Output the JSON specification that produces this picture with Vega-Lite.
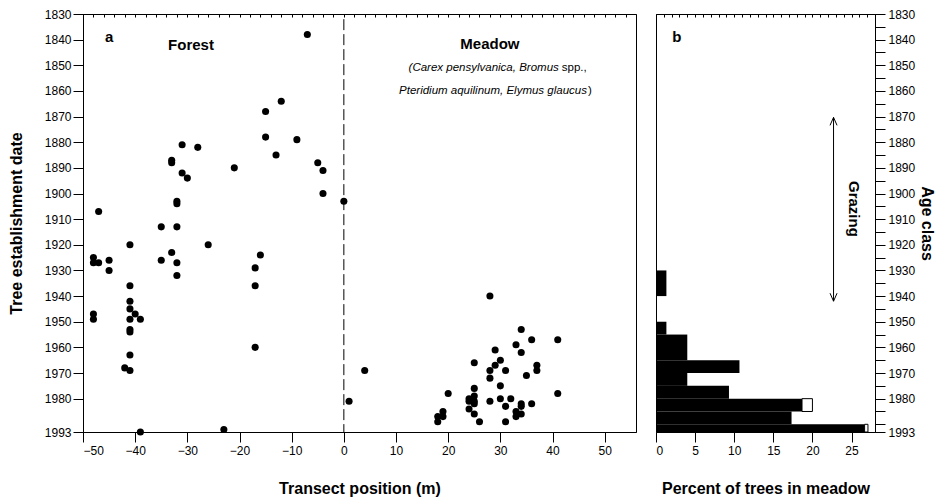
{
  "$schema": "https://vega.github.io/schema/vega-lite/v6.json",
  "padding": {"left": 7, "top": 7, "right": 3, "bottom": 5},
  "background": "white",
  "config": {
    "view": {"stroke": "black", "strokeWidth": 1},
    "font": "Liberation Sans",
    "axis": {
      "grid": false,
      "domainColor": "black",
      "tickColor": "black",
      "labelColor": "black",
      "titleColor": "black",
      "labelFont": "Liberation Sans",
      "titleFont": "Liberation Sans",
      "labelFontSize": 12,
      "titleFontSize": 16,
      "titleFontWeight": "bold",
      "tickSize": 10,
      "labelPadding": 2,
      "labelOverlap": false,
      "format": "d",
      "tickCount": 100
    },
    "text": {"font": "Liberation Sans", "color": "black"}
  },
  "datasets": {
    "trees": [
      {"pos": -7, "year": 1838}, {"pos": -15, "year": 1868}, {"pos": -12, "year": 1864}, {"pos": -15, "year": 1878},
      {"pos": -13, "year": 1885}, {"pos": -9, "year": 1879}, {"pos": -5, "year": 1888}, {"pos": -4, "year": 1891},
      {"pos": -4, "year": 1900}, {"pos": 0, "year": 1903}, {"pos": -21, "year": 1890}, {"pos": -28, "year": 1882},
      {"pos": -31, "year": 1881}, {"pos": -33, "year": 1887}, {"pos": -33, "year": 1888}, {"pos": -31, "year": 1892},
      {"pos": -30, "year": 1894}, {"pos": -32, "year": 1903}, {"pos": -32, "year": 1904}, {"pos": -47, "year": 1907},
      {"pos": -35, "year": 1913}, {"pos": -32, "year": 1913}, {"pos": -41, "year": 1920}, {"pos": -26, "year": 1920},
      {"pos": -48, "year": 1925}, {"pos": -48, "year": 1927}, {"pos": -47, "year": 1927}, {"pos": -45, "year": 1926},
      {"pos": -45, "year": 1930}, {"pos": -35, "year": 1926}, {"pos": -33, "year": 1923}, {"pos": -32, "year": 1927},
      {"pos": -32, "year": 1932}, {"pos": -17, "year": 1929}, {"pos": -16, "year": 1924}, {"pos": -17, "year": 1936},
      {"pos": -17, "year": 1960}, {"pos": -41, "year": 1936}, {"pos": -41, "year": 1942}, {"pos": -41, "year": 1945},
      {"pos": -40, "year": 1947}, {"pos": -41, "year": 1949}, {"pos": -39, "year": 1949}, {"pos": -48, "year": 1947},
      {"pos": -48, "year": 1949}, {"pos": -41, "year": 1953}, {"pos": -41, "year": 1954}, {"pos": -41, "year": 1963},
      {"pos": -42, "year": 1968}, {"pos": -41, "year": 1969}, {"pos": -39, "year": 1993}, {"pos": -23, "year": 1992},
      {"pos": 1, "year": 1981}, {"pos": 4, "year": 1969}, {"pos": 28, "year": 1940}, {"pos": 34, "year": 1953},
      {"pos": 36, "year": 1957}, {"pos": 41, "year": 1957}, {"pos": 33, "year": 1959}, {"pos": 29, "year": 1961},
      {"pos": 34, "year": 1962}, {"pos": 30, "year": 1965}, {"pos": 29, "year": 1967}, {"pos": 25, "year": 1966},
      {"pos": 28, "year": 1969}, {"pos": 31, "year": 1969}, {"pos": 37, "year": 1967}, {"pos": 37, "year": 1969},
      {"pos": 35, "year": 1971}, {"pos": 28, "year": 1972}, {"pos": 30, "year": 1975}, {"pos": 25, "year": 1976},
      {"pos": 20, "year": 1978}, {"pos": 41, "year": 1978}, {"pos": 24, "year": 1980}, {"pos": 25, "year": 1979},
      {"pos": 24, "year": 1981}, {"pos": 25, "year": 1981}, {"pos": 28, "year": 1981}, {"pos": 30, "year": 1980},
      {"pos": 32, "year": 1980}, {"pos": 34, "year": 1982}, {"pos": 36, "year": 1982}, {"pos": 34, "year": 1983},
      {"pos": 31, "year": 1983}, {"pos": 24, "year": 1984}, {"pos": 25, "year": 1982}, {"pos": 25, "year": 1986},
      {"pos": 33, "year": 1985}, {"pos": 34, "year": 1986}, {"pos": 33, "year": 1987}, {"pos": 19, "year": 1985},
      {"pos": 19, "year": 1987}, {"pos": 18, "year": 1987}, {"pos": 18, "year": 1989}, {"pos": 26, "year": 1989},
      {"pos": 31, "year": 1989}
    ],
    "boundary": [{"pos": 0, "year": 1832, "year2": 1993}],
    "labelsA": [
      {"pos": -45, "year": 1839, "text": "a"},
      {"pos": -29.3, "year": 1842, "text": "Forest"},
      {"pos": 28.0, "year": 1841.7, "text": "Meadow"}
    ],
    "speciesItalic": [
      {"pos": 41.2, "year": 1851.2, "text": "(Carex pensylvanica, Bromus"},
      {"pos": 46.6, "year": 1859.9, "text": "Pteridium aquilinum, Elymus glaucus"}
    ],
    "speciesNormal": [
      {"pos": 41.2, "year": 1851.2, "text": " spp.,", "shift": 3},
      {"pos": 46.6, "year": 1859.9, "text": ")", "shift": 1}
    ],
    "hist": [
      {"year": 1930, "year2": 1940, "pct": 1.33},
      {"year": 1950, "year2": 1955, "pct": 1.33},
      {"year": 1955, "year2": 1965, "pct": 4.0},
      {"year": 1965, "year2": 1970, "pct": 10.67},
      {"year": 1970, "year2": 1975, "pct": 4.0},
      {"year": 1975, "year2": 1980, "pct": 9.33},
      {"year": 1980, "year2": 1985, "pct": 18.67},
      {"year": 1985, "year2": 1990, "pct": 17.33},
      {"year": 1990, "year2": 1993, "pct": 26.67}
    ],
    "extra": [
      {"year": 1980, "year2": 1985, "pct": 18.67, "total": 20.0},
      {"year": 1990, "year2": 1993, "pct": 26.67, "total": 27.1}
    ],
    "grazing": [{"pct": 22.7, "year": 1870.3, "year2": 1942}],
    "labelsB": [
      {"pct": 2.65, "year": 1839, "text": "b", "angle": 0},
      {"pct": 25.3, "year": 1906, "text": "Grazing", "angle": 90}
    ]
  },
  "spacing": 18,
  "hconcat": [
    {
      "width": 553,
      "height": 418,
      "resolve": {"axis": {"x": "independent"}},
      "layer": [
        {
          "data": {"name": "trees"},
          "mark": {"type": "circle", "color": "black", "opacity": 1, "size": 50},
          "encoding": {
            "x": {"field": "pos", "type": "quantitative",
                  "scale": {"domain": [-50, 56], "nice": false, "zero": false},
                  "axis": {"orient": "bottom", "values": [-50, -40, -30, -20, -10, 0, 10, 20, 30, 40, 50], "tickCount": 100, "title": "Transect position (m)", "titlePadding": 24, "labelPadding": 3, "labelOverlap": false}},
            "y": {"field": "year", "type": "quantitative",
                  "scale": {"domain": [1830, 1993], "nice": false, "zero": false, "reverse": true},
                  "axis": {"orient": "left", "values": [1830, 1840, 1850, 1860, 1870, 1880, 1890, 1900, 1910, 1920, 1930, 1940, 1950, 1960, 1970, 1980, 1993], "tickCount": 100, "title": "Tree establishment date", "titlePadding": 20, "labelOverlap": false}}
          }
        },
        {
          "data": {"name": "boundary"},
          "mark": {"type": "rule", "color": "black", "strokeDash": [11, 4], "strokeWidth": 1},
          "encoding": {
            "x": {"field": "pos", "type": "quantitative",
                  "axis": {"orient": "top", "values": [-50, -48, -46, -44, -42, -40, -38, -36, -34, -32, -30, -28, -26, -24, -22, -20, -18, -16, -14, -12, -10, -8, -6, -4, -2, 0, 2, 4, 6, 8, 10, 12, 14, 16, 18, 20, 22, 24, 26, 28, 30, 32, 34, 36, 38, 40, 42, 44, 46, 48, 50, 52, 54], "tickCount": 100, "labels": false, "title": null, "tickSize": -3, "domain": true}},
            "y": {"field": "year", "type": "quantitative"},
            "y2": {"field": "year2"}
          }
        },
        {
          "data": {"name": "labelsA"},
          "mark": {"type": "text", "fontSize": 15, "fontWeight": "bold", "baseline": "middle", "align": "center"},
          "encoding": {
            "x": {"field": "pos", "type": "quantitative", "axis": null},
            "y": {"field": "year", "type": "quantitative"},
            "text": {"field": "text"}
          }
        },
        {
          "data": {"name": "speciesItalic"},
          "mark": {"type": "text", "fontSize": 11.5, "fontStyle": "italic", "baseline": "middle", "align": "right"},
          "encoding": {
            "x": {"field": "pos", "type": "quantitative", "axis": null},
            "y": {"field": "year", "type": "quantitative"},
            "text": {"field": "text"}
          }
        },
        {
          "data": {"name": "speciesNormal"},
          "transform": [{"filter": "datum.shift == 3"}],
          "mark": {"type": "text", "fontSize": 11.5, "baseline": "middle", "align": "left", "dx": 3},
          "encoding": {
            "x": {"field": "pos", "type": "quantitative", "axis": null},
            "y": {"field": "year", "type": "quantitative"},
            "text": {"field": "text"}
          }
        },
        {
          "data": {"name": "speciesNormal"},
          "transform": [{"filter": "datum.shift == 1"}],
          "mark": {"type": "text", "fontSize": 11.5, "baseline": "middle", "align": "left", "dx": 1},
          "encoding": {
            "x": {"field": "pos", "type": "quantitative", "axis": null},
            "y": {"field": "year", "type": "quantitative"},
            "text": {"field": "text"}
          }
        }
      ]
    },
    {
      "width": 219,
      "height": 418,
      "resolve": {"axis": {"x": "independent"}},
      "layer": [
        {
          "data": {"name": "hist"},
          "mark": {"type": "rect", "color": "black"},
          "encoding": {
            "x": {"field": "pct", "type": "quantitative",
                  "scale": {"domain": [0, 28], "nice": false},
                  "axis": {"orient": "bottom", "values": [0, 5, 10, 15, 20, 25], "tickCount": 100, "title": "Percent of trees in meadow", "titlePadding": 24, "labelPadding": 3, "labelOverlap": false}},
            "x2": {"datum": 0},
            "y": {"field": "year", "type": "quantitative",
                  "scale": {"domain": [1830, 1993], "nice": false, "zero": false, "reverse": true},
                  "axis": {"orient": "right", "values": [1830, 1835, 1840, 1845, 1850, 1855, 1860, 1865, 1870, 1875, 1880, 1885, 1890, 1895, 1900, 1905, 1910, 1915, 1920, 1925, 1930, 1935, 1940, 1945, 1950, 1955, 1960, 1965, 1970, 1975, 1980, 1985, 1990, 1993],
                           "tickCount": 100,
                           "labelExpr": "(datum.value % 10 == 0 && datum.value <= 1980) || datum.value == 1993 ? datum.label : ''",
                           "title": "Age class", "titlePadding": 4, "labelPadding": 3, "labelOverlap": false}},
            "y2": {"field": "year2"}
          }
        },
        {
          "data": {"name": "extra"},
          "mark": {"type": "rect", "fill": "white", "stroke": "black", "strokeWidth": 1},
          "encoding": {
            "x": {"field": "pct", "type": "quantitative",
                  "axis": {"orient": "top", "values": [0, 1, 2, 3, 4, 5, 6, 7, 8, 9, 10, 11, 12, 13, 14, 15, 16, 17, 18, 19, 20, 21, 22, 23, 24, 25, 26, 27], "tickCount": 100, "labels": false, "title": null, "tickSize": -3}},
            "x2": {"field": "total"},
            "y": {"field": "year", "type": "quantitative"},
            "y2": {"field": "year2"}
          }
        },
        {
          "data": {"name": "grazing"},
          "mark": {"type": "rule", "color": "black", "strokeWidth": 1},
          "encoding": {
            "x": {"field": "pct", "type": "quantitative", "axis": null},
            "y": {"field": "year", "type": "quantitative"},
            "y2": {"field": "year2"}
          }
        },
        {
          "data": {"name": "grazing"},
          "mark": {"type": "point", "shape": "M-0.35,0.8L0,0L0.35,0.8", "filled": false, "stroke": "black", "strokeWidth": 1, "size": 400, "opacity": 1},
          "encoding": {
            "x": {"field": "pct", "type": "quantitative", "axis": null},
            "y": {"field": "year", "type": "quantitative"}
          }
        },
        {
          "data": {"name": "grazing"},
          "mark": {"type": "point", "shape": "M-0.35,-0.8L0,0L0.35,-0.8", "filled": false, "stroke": "black", "strokeWidth": 1, "size": 400, "opacity": 1},
          "encoding": {
            "x": {"field": "pct", "type": "quantitative", "axis": null},
            "y": {"field": "year2", "type": "quantitative"}
          }
        },
        {
          "data": {"name": "labelsB"},
          "mark": {"type": "text", "fontSize": 15, "fontWeight": "bold", "baseline": "middle", "align": "center"},
          "encoding": {
            "x": {"field": "pct", "type": "quantitative", "axis": null},
            "y": {"field": "year", "type": "quantitative"},
            "text": {"field": "text"},
            "angle": {"field": "angle", "type": "quantitative", "scale": null, "legend": null}
          }
        }
      ]
    }
  ]
}
